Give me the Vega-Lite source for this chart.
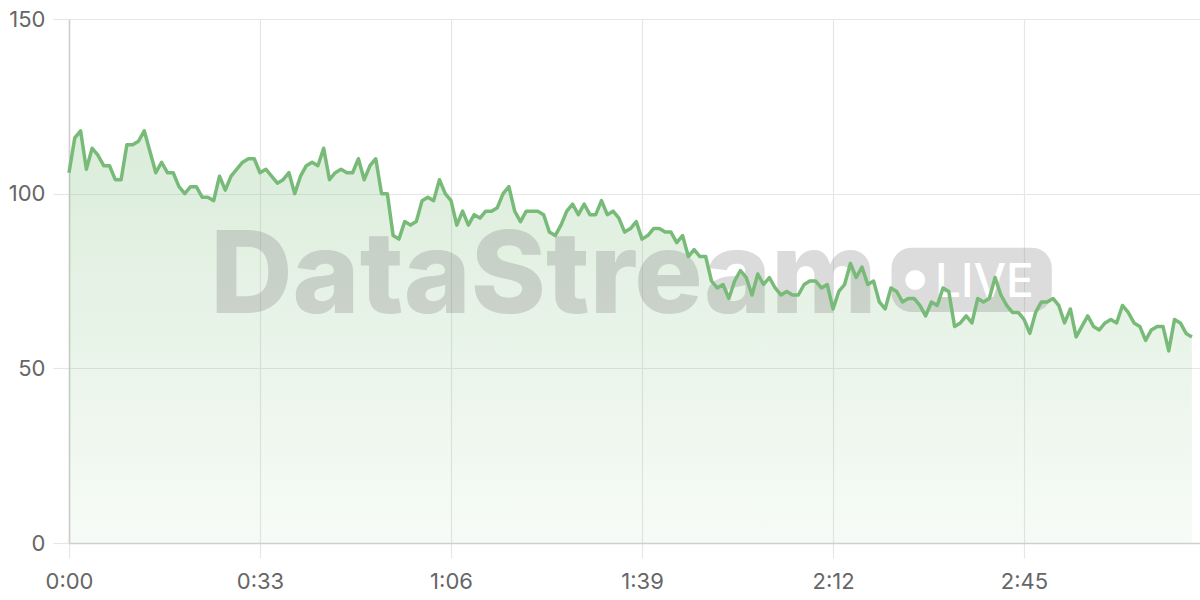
{
  "$schema": "https://vega.github.io/schema/vega-lite/v6.json",
  "width": 1131,
  "height": 524,
  "autosize": {"type": "none"},
  "padding": {"left": 69, "top": 19, "right": 0, "bottom": 57},
  "background": "#ffffff",
  "config": {
    "view": {"stroke": null},
    "axis": {
      "labelFont": "Inter",
      "labelFontSize": 22,
      "labelColor": "#666666",
      "gridColor": "#e6e6e6",
      "gridWidth": 1.2,
      "tickColor": "#e6e6e6",
      "tickWidth": 1.2,
      "domainColor": "#cfcfcf",
      "domainWidth": 1.6,
      "title": null
    }
  },
  "datasets": {
    "series": [
      {"t":0,"v":106},{"t":1,"v":116},{"t":2,"v":118},{"t":3,"v":107},{"t":4,"v":113},{"t":5,"v":111},{"t":6,"v":108},{"t":7,"v":108},{"t":8,"v":104},{"t":9,"v":104},
      {"t":10,"v":114},{"t":11,"v":114},{"t":12,"v":115},{"t":13,"v":118},{"t":14,"v":112},{"t":15,"v":106},{"t":16,"v":109},{"t":17,"v":106},{"t":18,"v":106},{"t":19,"v":102},
      {"t":20,"v":100},{"t":21,"v":102},{"t":22,"v":102},{"t":23,"v":99},{"t":24,"v":99},{"t":25,"v":98},{"t":26,"v":105},{"t":27,"v":101},{"t":28,"v":105},{"t":29,"v":107},
      {"t":30,"v":109},{"t":31,"v":110},{"t":32,"v":110},{"t":33,"v":106},{"t":34,"v":107},{"t":35,"v":105},{"t":36,"v":103},{"t":37,"v":104},{"t":38,"v":106},{"t":39,"v":100},
      {"t":40,"v":105},{"t":41,"v":108},{"t":42,"v":109},{"t":43,"v":108},{"t":44,"v":113},{"t":45,"v":104},{"t":46,"v":106},{"t":47,"v":107},{"t":48,"v":106},{"t":49,"v":106},
      {"t":50,"v":110},{"t":51,"v":104},{"t":52,"v":108},{"t":53,"v":110},{"t":54,"v":100},{"t":55,"v":100},{"t":56,"v":88},{"t":57,"v":87},{"t":58,"v":92},{"t":59,"v":91},
      {"t":60,"v":92},{"t":61,"v":98},{"t":62,"v":99},{"t":63,"v":98},{"t":64,"v":104},{"t":65,"v":100},{"t":66,"v":98},{"t":67,"v":91},{"t":68,"v":95},{"t":69,"v":91},
      {"t":70,"v":94},{"t":71,"v":93},{"t":72,"v":95},{"t":73,"v":95},{"t":74,"v":96},{"t":75,"v":100},{"t":76,"v":102},{"t":77,"v":95},{"t":78,"v":92},{"t":79,"v":95},
      {"t":80,"v":95},{"t":81,"v":95},{"t":82,"v":94},{"t":83,"v":89},{"t":84,"v":88},{"t":85,"v":91},{"t":86,"v":95},{"t":87,"v":97},{"t":88,"v":94},{"t":89,"v":97},
      {"t":90,"v":94},{"t":91,"v":94},{"t":92,"v":98},{"t":93,"v":94},{"t":94,"v":95},{"t":95,"v":93},{"t":96,"v":89},{"t":97,"v":90},{"t":98,"v":92},{"t":99,"v":87},
      {"t":100,"v":88},{"t":101,"v":90},{"t":102,"v":90},{"t":103,"v":89},{"t":104,"v":89},{"t":105,"v":86},{"t":106,"v":88},{"t":107,"v":82},{"t":108,"v":84},{"t":109,"v":82},
      {"t":110,"v":82},{"t":111,"v":75},{"t":112,"v":73},{"t":113,"v":74},{"t":114,"v":70},{"t":115,"v":75},{"t":116,"v":78},{"t":117,"v":76},{"t":118,"v":71},{"t":119,"v":77},
      {"t":120,"v":74},{"t":121,"v":76},{"t":122,"v":73},{"t":123,"v":71},{"t":124,"v":72},{"t":125,"v":71},{"t":126,"v":71},{"t":127,"v":74},{"t":128,"v":75},{"t":129,"v":75},
      {"t":130,"v":73},{"t":131,"v":74},{"t":132,"v":67},{"t":133,"v":72},{"t":134,"v":74},{"t":135,"v":80},{"t":136,"v":76},{"t":137,"v":79},{"t":138,"v":74},{"t":139,"v":75},
      {"t":140,"v":69},{"t":141,"v":67},{"t":142,"v":73},{"t":143,"v":72},{"t":144,"v":69},{"t":145,"v":70},{"t":146,"v":70},{"t":147,"v":68},{"t":148,"v":65},{"t":149,"v":69},
      {"t":150,"v":68},{"t":151,"v":73},{"t":152,"v":72},{"t":153,"v":62},{"t":154,"v":63},{"t":155,"v":65},{"t":156,"v":63},{"t":157,"v":70},{"t":158,"v":69},{"t":159,"v":70},
      {"t":160,"v":76},{"t":161,"v":71},{"t":162,"v":68},{"t":163,"v":66},{"t":164,"v":66},{"t":165,"v":64},{"t":166,"v":60},{"t":167,"v":66},{"t":168,"v":69},{"t":169,"v":69},
      {"t":170,"v":70},{"t":171,"v":68},{"t":172,"v":63},{"t":173,"v":67},{"t":174,"v":59},{"t":175,"v":62},{"t":176,"v":65},{"t":177,"v":62},{"t":178,"v":61},{"t":179,"v":63},
      {"t":180,"v":64},{"t":181,"v":63},{"t":182,"v":68},{"t":183,"v":66},{"t":184,"v":63},{"t":185,"v":62},{"t":186,"v":58},{"t":187,"v":61},{"t":188,"v":62},{"t":189,"v":62},
      {"t":190,"v":55},{"t":191,"v":64},{"t":192,"v":63},{"t":193,"v":60},{"t":194,"v":59}
    ],
    "wmText": [{"t": 24.4, "v": 65.75, "label": "DataStream"}],
    "wmPill": [{"t": 142.1, "t2": 169.8, "v": 84.5, "v2": 66.1}],
    "wmDot": [{"t": 146.2, "v": 75.3}],
    "wmLive": [{"t": 149.6, "v": 70.5, "label": "LIVE"}]
  },
  "encoding": {
    "x": {
      "field": "t",
      "type": "quantitative",
      "scale": {"domain": [0, 195.4], "nice": false, "zero": false},
      "axis": {
        "values": [0, 33, 66, 99, 132, 165],
        "labelExpr": "floor(datum.value/60) + ':' + (datum.value % 60 < 10 ? '0' : '') + (datum.value % 60)",
        "tickSize": 15,
        "labelPadding": 13,
        "labelFlush": false,
        "labelOverlap": false,
        "grid": true
      }
    },
    "y": {
      "field": "v",
      "type": "quantitative",
      "scale": {"domain": [0, 150], "nice": false},
      "axis": {
        "values": [0, 50, 100, 150],
        "tickSize": 16,
        "labelPadding": 8,
        "grid": true,
        "labelFlush": false
      }
    }
  },
  "layer": [
    {
      "data": {"name": "series"},
      "mark": {
        "type": "area",
        "color": {
          "gradient": "linear",
          "x1": 0, "y1": 0, "x2": 0, "y2": 1,
          "stops": [
            {"offset": 0, "color": "rgba(120,187,120,0.27)"},
            {"offset": 1, "color": "rgba(120,187,120,0.06)"}
          ]
        }
      }
    },
    {
      "data": {"name": "wmText"},
      "mark": {
        "type": "text",
        "font": "Inter",
        "fontWeight": 800,
        "fontSize": 114,
        "align": "left",
        "baseline": "alphabetic",
        "fill": "#808080",
        "opacity": 0.28
      },
      "encoding": {"text": {"field": "label"}}
    },
    {
      "data": {"name": "wmPill"},
      "mark": {"type": "rect", "cornerRadius": 20, "fill": "#808080", "opacity": 0.28},
      "encoding": {
        "x2": {"field": "t2"},
        "y2": {"field": "v2"}
      }
    },
    {
      "data": {"name": "wmDot"},
      "mark": {"type": "point", "shape": "circle", "filled": true, "size": 400, "fill": "#ffffff", "opacity": 1}
    },
    {
      "data": {"name": "wmLive"},
      "mark": {
        "type": "text",
        "font": "Inter",
        "fontWeight": 500,
        "fontSize": 46,
        "align": "left",
        "baseline": "alphabetic",
        "fill": "#ffffff"
      },
      "encoding": {"text": {"field": "label"}}
    },
    {
      "data": {"name": "series"},
      "mark": {"type": "line", "color": "#78bb78", "strokeWidth": 3.5, "strokeJoin": "round"}
    }
  ]
}
